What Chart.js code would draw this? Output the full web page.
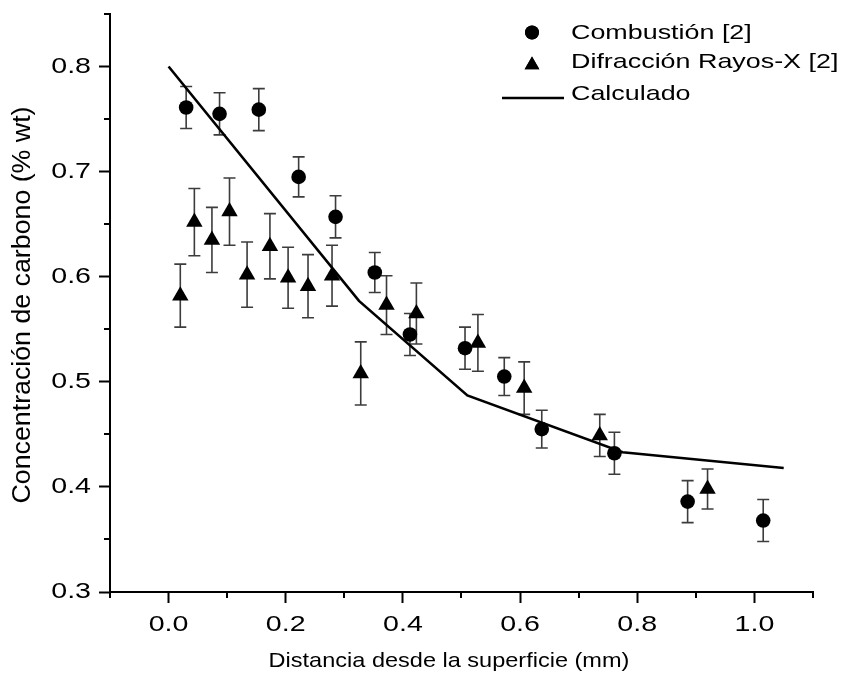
<!DOCTYPE html>
<html>
<head>
<meta charset="utf-8">
<script src="https://cdn.jsdelivr.net/npm/chart.js@4"></script>
<style>
  html, body { margin: 0; padding: 0; background: #fff; }
  #wrap { width: 844px; height: 686px; }
</style>
</head>
<body>
<div id="wrap"><canvas id="c" width="844" height="686"></canvas></div>
<script>
// Combustion measurements (distance in mm, carbon in % wt, ± error)
const combLabel = 'Combustión [2]';
const combX   = [0.030, 0.087, 0.154, 0.222, 0.285, 0.352, 0.412, 0.506, 0.573, 0.637, 0.761, 0.886, 1.015];
const combY   = [0.761, 0.755, 0.759, 0.695, 0.657, 0.604, 0.545, 0.532, 0.505, 0.455, 0.432, 0.386, 0.368];
const combErr = [0.020, 0.020, 0.020, 0.019, 0.020, 0.019, 0.020, 0.020, 0.018, 0.018, 0.020, 0.020, 0.020];

// X-ray diffraction measurements
const xrdLabel = 'Difracción Rayos-X [2]';
const xrdX   = [0.020, 0.044, 0.074, 0.104, 0.134, 0.173, 0.204, 0.238, 0.279, 0.328, 0.372, 0.423, 0.528, 0.607, 0.736, 0.920];
const xrdY   = [0.582, 0.652, 0.635, 0.662, 0.602, 0.629, 0.599, 0.591, 0.601, 0.508, 0.573, 0.565, 0.537, 0.494, 0.449, 0.398];
const xrdErr = [0.030, 0.032, 0.031, 0.032, 0.031, 0.031, 0.029, 0.030, 0.029, 0.030, 0.028, 0.029, 0.027, 0.025, 0.020, 0.019];

// Calculated profile
const calcLabel = 'Calculado';
const calcX = [0.000, 0.325, 0.510, 0.775, 1.050];
const calcY = [0.800, 0.577, 0.487, 0.433, 0.418];

// Axis ticks
const xMajorTicks = [0.0, 0.2, 0.4, 0.6, 0.8, 1.0];
const xMinorTicks = [-0.1, 0.1, 0.3, 0.5, 0.7, 0.9, 1.1];
const yMajorTicks = [0.3, 0.4, 0.5, 0.6, 0.7, 0.8];
const yMinorTicks = [0.35, 0.45, 0.55, 0.65, 0.75, 0.85];

const xTitle = 'Distancia desde la superficie (mm)';
const yTitle = 'Concentración de carbono (% wt)';

const FONT = "'Liberation Sans', Arial, sans-serif";
Chart.defaults.font.family = FONT;
Chart.defaults.color = '#000';

// Wide lettering: text is drawn with a horizontal stretch
const TICK_STRETCH = 1.3;
let plainFill = null;
function wideText(ctx, text, x, y, k) {
  ctx.save();
  ctx.translate(x, y);
  ctx.scale(k, 1);
  plainFill(text, 0, 0);
  ctx.restore();
}
const wideTicks = {
  id: 'wideTicks',
  beforeInit(chart) {
    const ctx = chart.ctx;
    plainFill = ctx.fillText.bind(ctx);
    ctx.fillText = (text, x, y) => wideText(ctx, text, x, y, TICK_STRETCH);
  }
};

const toPoints = (xs, ys) => xs.map((x, i) => ({ x: x, y: ys[i] }));

// Vertical error bars with caps, drawn beneath the markers
const errorBars = {
  id: 'errorBars',
  beforeDatasetsDraw(chart) {
    const ctx = chart.ctx;
    const xs = chart.scales.x, ys = chart.scales.y;
    const sets = [[combX, combY, combErr], [xrdX, xrdY, xrdErr]];
    ctx.save();
    ctx.strokeStyle = '#3c3c3c';
    ctx.lineWidth = 1.6;
    sets.forEach(([X, Y, E]) => {
      X.forEach((x, i) => {
        const px = xs.getPixelForValue(x);
        const top = ys.getPixelForValue(Y[i] + E[i]);
        const bot = ys.getPixelForValue(Y[i] - E[i]);
        ctx.beginPath();
        ctx.moveTo(px, top); ctx.lineTo(px, bot);
        ctx.moveTo(px - 6, top); ctx.lineTo(px + 6, top);
        ctx.moveTo(px - 6, bot); ctx.lineTo(px + 6, bot);
        ctx.stroke();
      });
    });
    ctx.restore();
  }
};

// Minor tick marks and axis titles
const axisExtras = {
  id: 'axisExtras',
  afterDraw(chart) {
    const ctx = chart.ctx;
    const xs = chart.scales.x, ys = chart.scales.y;
    const area = chart.chartArea;
    ctx.save();
    ctx.strokeStyle = '#000';
    ctx.lineWidth = 2;
    ctx.beginPath();
    xMinorTicks.forEach(v => {
      const px = Math.round(xs.getPixelForValue(v));
      ctx.moveTo(px, area.bottom); ctx.lineTo(px, area.bottom + 6);
    });
    yMinorTicks.forEach(v => {
      const py = Math.round(ys.getPixelForValue(v));
      ctx.moveTo(area.left, py); ctx.lineTo(area.left - 6, py);
    });
    ctx.stroke();

    ctx.fillStyle = '#000';
    ctx.textAlign = 'center';
    ctx.textBaseline = 'middle';
    ctx.font = '21px ' + FONT;
    wideText(ctx, xTitle, 449, 661, 1.12);

    ctx.save();
    ctx.translate(23.5, 305);
    ctx.rotate(-Math.PI / 2);
    ctx.font = '25px ' + FONT;
    wideText(ctx, yTitle, 0, 0, 1.07);
    ctx.restore();
    ctx.restore();
  }
};

// Legend drawn in the upper right corner of the plot
const cornerLegend = {
  id: 'cornerLegend',
  afterDraw(chart) {
    const ctx = chart.ctx;
    const ds = chart.data.datasets;
    ctx.save();
    ctx.fillStyle = '#000';
    ctx.strokeStyle = '#000';
    ctx.font = '21px ' + FONT;
    ctx.textBaseline = 'alphabetic';
    ctx.textAlign = 'left';
    const mx = 532, tx = 571;
    const rows = [
      { ds: ds[0], my: 32.5, ty: 38.5 },
      { ds: ds[1], my: 65, ty: 67.5 },
      { ds: ds[2], my: 98, ty: 100 }
    ];
    rows.forEach(r => {
      if (r.ds.showLine) {
        ctx.lineWidth = 2.5;
        ctx.beginPath();
        ctx.moveTo(502, r.my); ctx.lineTo(564, r.my);
        ctx.stroke();
      } else {
        Chart.helpers.drawPoint(ctx, {
          pointStyle: r.ds.pointStyle,
          radius: r.ds.pointStyle === 'triangle' ? 8.5 : 7,
          rotation: 0,
          borderWidth: 0
        }, mx, r.my);
        ctx.fill();
      }
      wideText(ctx, r.ds.label, tx, r.ty, 1.28);
    });
    ctx.restore();
  }
};

new Chart(document.getElementById('c'), {
  type: 'scatter',
  data: {
    datasets: [
      {
        label: combLabel,
        data: toPoints(combX, combY),
        pointStyle: 'circle',
        pointRadius: 7.3,
        pointHoverRadius: 7.3,
        backgroundColor: '#000',
        borderColor: '#000',
        borderWidth: 0,
        showLine: false
      },
      {
        label: xrdLabel,
        data: toPoints(xrdX, xrdY),
        pointStyle: 'triangle',
        pointRadius: 9.5,
        pointHoverRadius: 9.5,
        backgroundColor: '#000',
        borderColor: '#000',
        borderWidth: 0,
        showLine: false
      },
      {
        label: calcLabel,
        data: toPoints(calcX, calcY),
        showLine: true,
        borderColor: '#000',
        borderWidth: 2.6,
        pointRadius: 0,
        fill: false,
        tension: 0
      }
    ]
  },
  options: {
    responsive: false,
    devicePixelRatio: 1,
    animation: false,
    events: [],
    clip: false,
    layout: { padding: { top: 14, right: 31, left: 0, bottom: 0 } },
    plugins: { legend: { display: false }, tooltip: { enabled: false } },
    scales: {
      x: {
        type: 'linear',
        min: -0.1,
        max: 1.1,
        afterBuildTicks: s => { s.ticks = xMajorTicks.map(v => ({ value: v })); },
        afterFit: s => { s.height = 94; s.paddingLeft = 0; s.paddingRight = 0; },
        ticks: {
          callback: v => v.toFixed(1),
          font: { size: 22 },
          color: '#000',
          padding: 9,
          maxRotation: 0,
          autoSkip: false
        },
        grid: {
          display: true,
          drawOnChartArea: false,
          drawTicks: true,
          tickLength: 11,
          tickWidth: 2,
          tickColor: '#000'
        },
        border: { display: true, color: '#000', width: 2 },
        title: { display: false }
      },
      y: {
        type: 'linear',
        min: 0.3,
        max: 0.85,
        afterBuildTicks: s => { s.ticks = yMajorTicks.map(v => ({ value: v })); },
        afterFit: s => { s.width = 110; s.paddingTop = 0; s.paddingBottom = 0; },
        ticks: {
          callback: v => v.toFixed(1),
          font: { size: 22 },
          color: '#000',
          padding: 8,
          autoSkip: false
        },
        grid: {
          display: true,
          drawOnChartArea: false,
          drawTicks: true,
          tickLength: 11,
          tickWidth: 2,
          tickColor: '#000'
        },
        border: { display: true, color: '#000', width: 2 },
        title: { display: false }
      }
    }
  },
  plugins: [wideTicks, errorBars, axisExtras, cornerLegend]
});
</script>
</body>
</html>
